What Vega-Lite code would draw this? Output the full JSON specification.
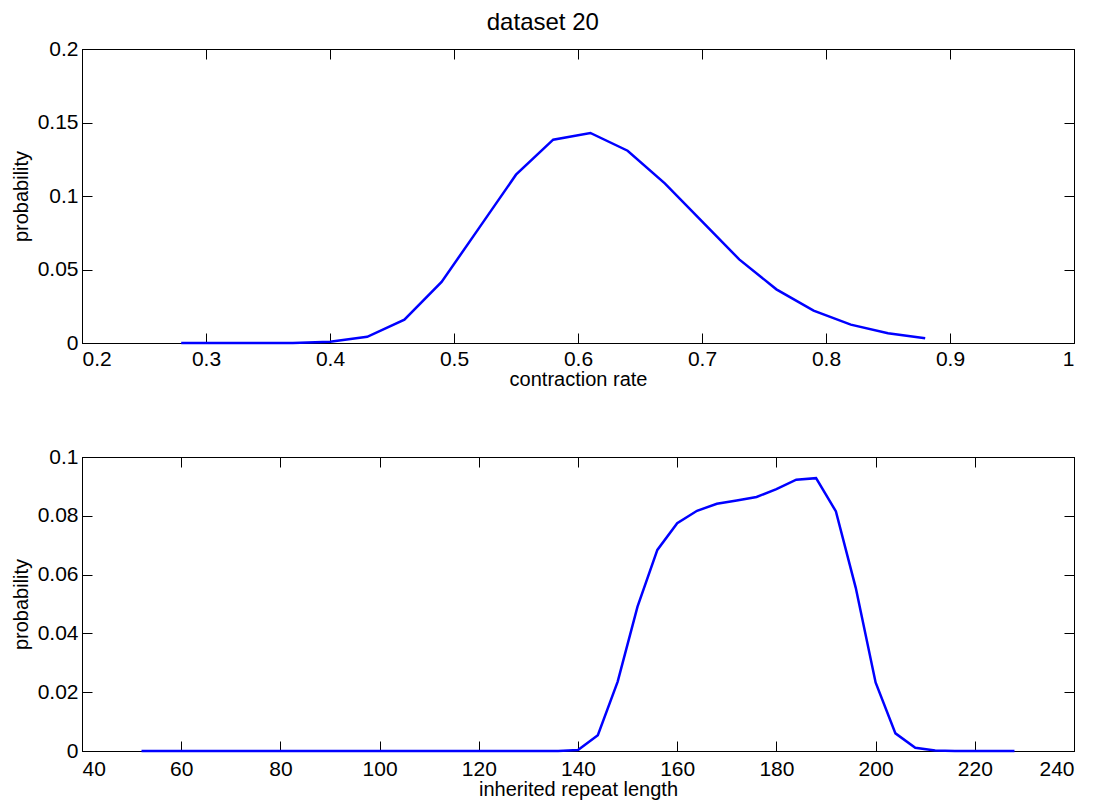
{
  "$schema": "https://vega.github.io/schema/vega-lite/v6.json",
  "background": "white",
  "padding": {"left": 10, "top": 10, "right": 36, "bottom": 2},
  "title": {"text": "dataset 20", "fontSize": 24, "font": "Liberation Sans", "fontWeight": "normal", "color": "#000", "anchor": "middle", "offset": 3},
  "config": {
    "font": "Liberation Sans",
    "view": {"stroke": "#000", "strokeWidth": 1},
    "axis": {
      "domainColor": "#000", "tickColor": "#000", "labelColor": "#000", "titleColor": "#000",
      "labelFont": "Liberation Sans", "titleFont": "Liberation Sans",
      "labelFontSize": 21, "titleFontSize": 20, "titleFontWeight": "normal",
      "grid": false, "tickSize": -10, "labelPadding": 14, "domainWidth": 1, "tickWidth": 1
    }
  },
  "datasets": {
    "top": [
      {"rate": 0.28, "p": 0}, {"rate": 0.31, "p": 0}, {"rate": 0.34, "p": 0}, {"rate": 0.37, "p": 0},
      {"rate": 0.40, "p": 0.0008}, {"rate": 0.43, "p": 0.0042}, {"rate": 0.46, "p": 0.0159},
      {"rate": 0.49, "p": 0.0415}, {"rate": 0.52, "p": 0.078}, {"rate": 0.55, "p": 0.1145},
      {"rate": 0.58, "p": 0.1383}, {"rate": 0.61, "p": 0.1429}, {"rate": 0.64, "p": 0.1308},
      {"rate": 0.67, "p": 0.1086}, {"rate": 0.70, "p": 0.0828}, {"rate": 0.73, "p": 0.0569},
      {"rate": 0.76, "p": 0.0365}, {"rate": 0.79, "p": 0.022}, {"rate": 0.82, "p": 0.0125},
      {"rate": 0.85, "p": 0.0066}, {"rate": 0.88, "p": 0.0032}
    ],
    "bottom": [
      {"len": 52, "p": 0}, {"len": 56, "p": 0}, {"len": 60, "p": 0}, {"len": 64, "p": 0},
      {"len": 68, "p": 0}, {"len": 72, "p": 0}, {"len": 76, "p": 0}, {"len": 80, "p": 0},
      {"len": 84, "p": 0}, {"len": 88, "p": 0}, {"len": 92, "p": 0}, {"len": 96, "p": 0},
      {"len": 100, "p": 0}, {"len": 104, "p": 0}, {"len": 108, "p": 0}, {"len": 112, "p": 0},
      {"len": 116, "p": 0}, {"len": 120, "p": 0}, {"len": 124, "p": 0}, {"len": 128, "p": 0},
      {"len": 132, "p": 0}, {"len": 136, "p": 0}, {"len": 140, "p": 0.0003}, {"len": 144, "p": 0.0054},
      {"len": 148, "p": 0.0236}, {"len": 152, "p": 0.0491}, {"len": 156, "p": 0.0684},
      {"len": 160, "p": 0.0775}, {"len": 164, "p": 0.0817}, {"len": 168, "p": 0.0841},
      {"len": 172, "p": 0.0852}, {"len": 176, "p": 0.0864}, {"len": 180, "p": 0.0891},
      {"len": 184, "p": 0.0923}, {"len": 188, "p": 0.0928}, {"len": 192, "p": 0.0815},
      {"len": 196, "p": 0.0555}, {"len": 200, "p": 0.0233}, {"len": 204, "p": 0.006},
      {"len": 208, "p": 0.0011}, {"len": 212, "p": 0.0002}, {"len": 216, "p": 0},
      {"len": 220, "p": 0}, {"len": 224, "p": 0}, {"len": 228, "p": 0}
    ]
  },
  "bounds": "flush",
  "spacing": 114,
  "vconcat": [
    {
      "width": 992, "height": 294,
      "data": {"name": "top"},
      "layer": [
        {
          "mark": {"type": "line", "color": "#0000ff", "strokeWidth": 2.5},
          "encoding": {
            "x": {"field": "rate", "type": "quantitative", "scale": {"domain": [0.2, 1], "nice": false, "zero": false},
                  "axis": {"orient": "bottom", "values": [0.2, 0.3, 0.4, 0.5, 0.6, 0.7, 0.8, 0.9, 1], "format": "~g", "title": "contraction rate", "labelPadding": 15, "titlePadding": 0}},
            "y": {"field": "p", "type": "quantitative", "scale": {"domain": [0, 0.2], "nice": false},
                  "axis": {"orient": "left", "values": [0, 0.05, 0.1, 0.15, 0.2], "format": "~g", "title": "probability", "titlePadding": 6}}
          }
        },
        {
          "mark": {"type": "line", "opacity": 0},
          "encoding": {
            "x": {"field": "rate", "type": "quantitative", "axis": {"orient": "top", "values": [0.2, 0.3, 0.4, 0.5, 0.6, 0.7, 0.8, 0.9, 1], "labels": false, "title": null}},
            "y": {"field": "p", "type": "quantitative", "axis": {"orient": "right", "values": [0, 0.05, 0.1, 0.15, 0.2], "labels": false, "title": null}}
          }
        }
      ],
      "resolve": {"axis": {"x": "independent", "y": "independent"}}
    },
    {
      "width": 992, "height": 294,
      "data": {"name": "bottom"},
      "layer": [
        {
          "mark": {"type": "line", "color": "#0000ff", "strokeWidth": 2.5},
          "encoding": {
            "x": {"field": "len", "type": "quantitative", "scale": {"domain": [40, 240], "nice": false, "zero": false},
                  "axis": {"orient": "bottom", "values": [40, 60, 80, 100, 120, 140, 160, 180, 200, 220, 240], "format": "d", "title": "inherited repeat length", "labelPadding": 17, "titlePadding": 0}},
            "y": {"field": "p", "type": "quantitative", "scale": {"domain": [0, 0.1], "nice": false},
                  "axis": {"orient": "left", "values": [0, 0.02, 0.04, 0.06, 0.08, 0.1], "format": "~g", "title": "probability", "titlePadding": 6}}
          }
        },
        {
          "mark": {"type": "line", "opacity": 0},
          "encoding": {
            "x": {"field": "len", "type": "quantitative", "axis": {"orient": "top", "values": [40, 60, 80, 100, 120, 140, 160, 180, 200, 220, 240], "labels": false, "title": null}},
            "y": {"field": "p", "type": "quantitative", "axis": {"orient": "right", "values": [0, 0.02, 0.04, 0.06, 0.08, 0.1], "labels": false, "title": null}}
          }
        }
      ],
      "resolve": {"axis": {"x": "independent", "y": "independent"}}
    }
  ]
}
